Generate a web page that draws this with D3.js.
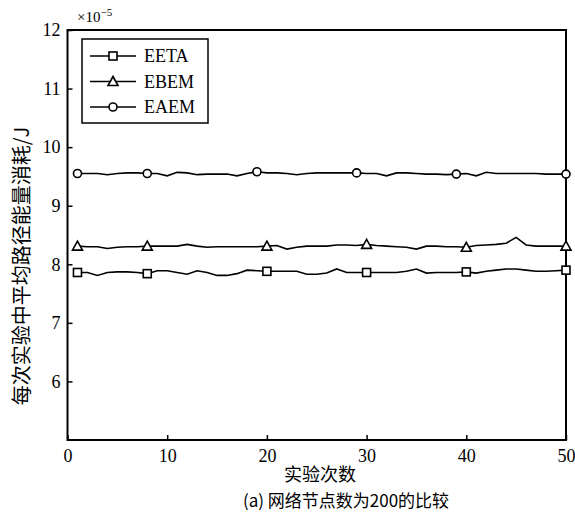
<!DOCTYPE html>
<html><head><meta charset="utf-8">
<script src="https://cdn.jsdelivr.net/npm/d3@7"></script>
<style>body{margin:0;background:#fff}svg{display:block}
.serif{font-family:"Liberation Serif","DejaVu Serif",serif}
.cjk{font-family:"Noto Sans CJK SC",sans-serif}</style>
</head><body>
<script>
const runs = d3.range(1, 51);
const EETA = [7.86,7.86,7.81,7.86,7.87,7.87,7.86,7.84,7.89,7.89,
  7.86,7.83,7.89,7.86,7.81,7.81,7.84,7.90,7.89,7.88,
  7.88,7.88,7.88,7.83,7.83,7.85,7.92,7.86,7.86,7.86,
  7.86,7.86,7.86,7.88,7.92,7.85,7.86,7.86,7.86,7.87,
  7.85,7.88,7.90,7.92,7.92,7.90,7.88,7.88,7.89,7.90];
const EBEM = [8.31,8.30,8.30,8.27,8.29,8.30,8.30,8.31,8.31,8.31,
  8.31,8.34,8.31,8.29,8.30,8.30,8.30,8.30,8.30,8.31,
  8.32,8.26,8.29,8.31,8.31,8.31,8.33,8.33,8.32,8.34,
  8.32,8.31,8.30,8.29,8.26,8.31,8.31,8.30,8.30,8.29,
  8.32,8.33,8.34,8.36,8.46,8.33,8.31,8.31,8.31,8.31];
const EAEM = [9.55,9.55,9.55,9.53,9.55,9.56,9.56,9.55,9.55,9.51,
  9.57,9.56,9.53,9.54,9.54,9.54,9.51,9.55,9.58,9.56,
  9.56,9.55,9.53,9.55,9.56,9.56,9.56,9.56,9.56,9.55,
  9.55,9.51,9.56,9.56,9.55,9.54,9.54,9.53,9.54,9.55,
  9.51,9.57,9.55,9.55,9.55,9.55,9.55,9.54,9.54,9.54];
const seriesNames = ["EETA","EBEM","EAEM"];
const markerShapes = ["square","triangle","circle"];
const markerRuns = [[1,8,20,30,40,50],[1,8,20,30,40,50],[1,8,19,29,39,50]];
const xTicks = [0,10,20,30,40,50];
const yTicks = [6,7,8,9,10,11,12];
const xLabel = "实验次数";
const yLabel = "每次实验中平均路径能量消耗/J";
const caption = "(a) 网络节点数为200的比较";

const W = 575, H = 519;
const L = 67.5, R = 566, T = 30, B = 440;
const svg = d3.select("body").append("svg").attr("width", W).attr("height", H);
const x = d3.scaleLinear().domain([0,50]).range([L,R]);
const y = d3.scaleLinear().domain([5,12]).range([B,T]);

// axes
const xAxis = svg.append("g").attr("transform",`translate(0,${B})`)
  .call(d3.axisBottom(x).tickValues(xTicks).tickFormat(d3.format("d")).tickSizeInner(-5).tickSizeOuter(0).tickPadding(9));
const yAxis = svg.append("g").attr("transform",`translate(${L},0)`)
  .call(d3.axisLeft(y).tickValues(yTicks).tickFormat(d3.format("d")).tickSizeInner(-5).tickSizeOuter(0).tickPadding(6));
[xAxis,yAxis].forEach(g=>{
  g.attr("font-family",null).attr("font-size",null).attr("class","serif");
  g.select(".domain").remove();
  g.selectAll("line").attr("stroke","#000").attr("stroke-width",1.5);
  g.selectAll("text").attr("font-size",18).attr("fill","#000");
});
yAxis.selectAll("text").attr("dx",-1);
// box
svg.append("rect").attr("x",L).attr("y",T).attr("width",R-L).attr("height",B-T)
  .attr("fill","none").attr("stroke","#000").attr("stroke-width",2);

// exponent
const ex = svg.append("text").attr("class","serif").attr("x",77).attr("y",22).attr("font-size",15);
ex.append("tspan").text("×10");
ex.append("tspan").attr("dy",-6).attr("font-size",11).text("−5");

// lines
const data = [EETA,EBEM,EAEM];
const line = d3.line().x((d,i)=>x(runs[i])).y(d=>y(d));
function drawMarker(g, shape, cx, cy){
  if(shape==="square") g.append("rect").attr("x",cx-4).attr("y",cy-4).attr("width",8).attr("height",8);
  else if(shape==="triangle") g.append("path").attr("d",`M${cx},${cy-5}L${cx+5},${cy+4}L${cx-5},${cy+4}Z`);
  else g.append("circle").attr("cx",cx).attr("cy",cy).attr("r",4);
}
data.forEach((vals,k)=>{
  svg.append("path").datum(vals).attr("d",line).attr("fill","none").attr("stroke","#000").attr("stroke-width",1.6);
  const g = svg.append("g").attr("fill","#fff").attr("stroke","#000").attr("stroke-width",1.6);
  markerRuns[k].forEach(r=>drawMarker(g, markerShapes[k], x(r), y(vals[r-1])));
});

// legend
const lg = svg.append("g");
lg.append("rect").attr("x",82).attr("y",39).attr("width",126).attr("height",84)
  .attr("fill","#fff").attr("stroke","#000").attr("stroke-width",1.5);
seriesNames.forEach((n,i)=>{
  const yy = 56 + i*25.5;
  lg.append("line").attr("x1",90).attr("x2",136).attr("y1",yy).attr("y2",yy).attr("stroke","#000").attr("stroke-width",1.6);
  const g = lg.append("g").attr("fill","#fff").attr("stroke","#000").attr("stroke-width",1.6);
  drawMarker(g, markerShapes[i], 113, yy);
  lg.append("text").attr("class","serif").attr("x",144).attr("y",yy+6).attr("font-size",18).text(n);
});

// labels
svg.append("text").attr("class","cjk").attr("transform","translate(29,266) rotate(-90)").attr("text-anchor","middle")
  .attr("font-size",20).text(yLabel);
svg.append("text").attr("class","cjk").attr("x",320).attr("y",481).attr("text-anchor","middle")
  .attr("font-size",18).text(xLabel);
svg.append("text").attr("class","cjk").attr("x",346).attr("y",507).attr("text-anchor","middle")
  .attr("font-size",17).text(caption);
</script>
</body></html>
